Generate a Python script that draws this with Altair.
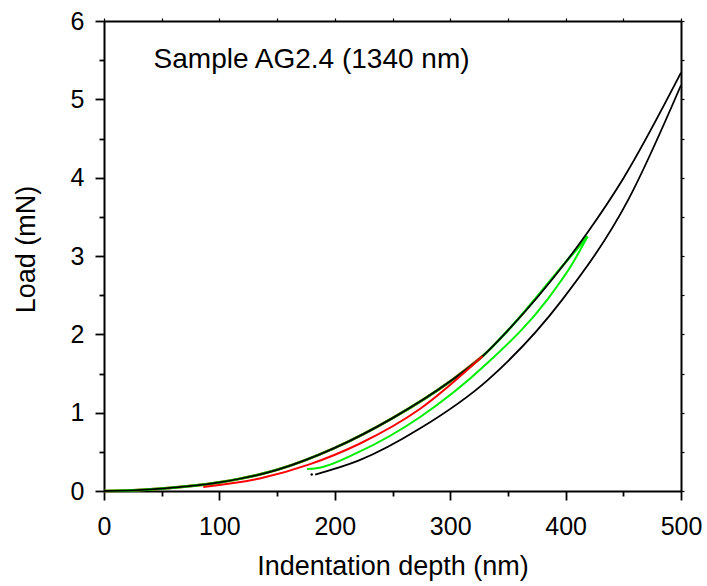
import altair as alt
import pandas as pd

# ---- data ----
load_depth = [0, 25, 50, 100, 150, 200, 250, 300, 328, 350, 400, 419, 450, 500]
load_force = [0, 0.008, 0.03, 0.11, 0.27, 0.55, 0.93, 1.40, 1.72, 2.05, 2.92, 3.30, 3.99, 5.34]

red_load_depth = [0, 25, 50, 100, 150, 200, 250, 300, 328]
red_load_force = [0, 0.008, 0.03, 0.11, 0.27, 0.55, 0.93, 1.40, 1.72]
red_unl_depth = [86, 135, 178, 221, 274, 328]
red_unl_force = [0.05, 0.16, 0.34, 0.60, 1.05, 1.72]

green_load_depth = [0, 25, 50, 100, 150, 200, 250, 300, 328, 350, 400, 419]
green_load_force = [0, 0.008, 0.03, 0.11, 0.27, 0.55, 0.93, 1.40, 1.72, 2.05, 2.92, 3.25]
green_unl_depth = [176, 184, 221, 274, 332, 384, 407, 419]
green_unl_force = [0.28, 0.29, 0.50, 0.945, 1.63, 2.44, 2.93, 3.25]

black_unl_depth = [183, 221, 274, 332, 397, 454, 500]
black_unl_force = [0.21, 0.39, 0.80, 1.41, 2.44, 3.71, 5.18]

dot_depth = [180]
dot_force = [0.21]

label_text = ["Sample AG2.4 (1340 nm)"]
label_x = [43]
label_y = [5.5]

x_all = [0, 50, 100, 150, 200, 250, 300, 350, 400, 450, 500]
y_all = [0, 0.5, 1, 1.5, 2, 2.5, 3, 3.5, 4, 4.5, 5, 5.5, 6]

FONT = "Liberation Sans"

def seg(name, xs, ys):
    return pd.DataFrame({"seg": name, "depth": xs, "load": ys})

series = [
    ("red_load", "#ff0000", 2.6, red_load_depth, red_load_force),
    ("green_load", "#00ee00", 2.6, green_load_depth, green_load_force),
    ("black_load", "#000000", 1.8, load_depth, load_force),
    ("red_unl", "#ff0000", 2.0, red_unl_depth, red_unl_force),
    ("green_unl", "#00ee00", 2.0, green_unl_depth, green_unl_force),
    ("black_unl", "#000000", 1.8, black_unl_depth, black_unl_force),
]

xs = alt.Scale(domain=[0, 500], nice=False, zero=False)
ys = alt.Scale(domain=[0, 6], nice=False, zero=False)

x_axis = alt.Axis(values=x_all,
                  labelExpr="datum.value % 100 === 0 ? format(datum.value, 'd') : ''",
                  tickSize={"condition": {"test": "datum.value % 100 === 0", "value": 9}, "value": 5},
                  labelFontSize=25, labelFont=FONT, labelColor="black", labelPadding=14,
                  title="Indentation depth (nm)", titleFont=FONT, titleFontSize=27,
                  titleFontWeight="normal", titleColor="black", titlePadding=14,
                  grid=False, domainColor="black", domainWidth=2, tickColor="black",
                  tickWidth=1.8, labelFlush=False, labelOverlap=False)
y_axis = alt.Axis(values=y_all,
                  labelExpr="datum.value % 1 === 0 ? format(datum.value, 'd') : ''",
                  tickSize={"condition": {"test": "datum.value % 1 === 0", "value": 9}, "value": 5},
                  labelFontSize=25, labelFont=FONT, labelColor="black", labelPadding=11,
                  title="Load (mN)", titleFont=FONT, titleFontSize=27,
                  titleFontWeight="normal", titleColor="black", titlePadding=30, titleY=228,
                  grid=False, domainColor="black", domainWidth=2, tickColor="black",
                  tickWidth=1.8, labelFlush=False, labelOverlap=False)

layers = []
for k, (name, color, w, dx, dy) in enumerate(series):
    layers.append(
        alt.Chart(seg(name, dx, dy)).mark_line(
            interpolate="monotone", color=color, strokeWidth=w).encode(
            x=alt.X("depth:Q", scale=xs, axis=x_axis if k == 0 else None),
            y=alt.Y("load:Q", scale=ys, axis=y_axis if k == 0 else None),
            order="depth:Q",
        )
    )

dots = alt.Chart(pd.DataFrame({"depth": dot_depth, "load": dot_force})).mark_point(
    filled=True, color="black", size=6, opacity=1).encode(
    x=alt.X("depth:Q", scale=xs, axis=None),
    y=alt.Y("load:Q", scale=ys, axis=None))

txt = alt.Chart(pd.DataFrame({"t": label_text, "x": label_x, "y": label_y})).mark_text(
    align="left", baseline="middle", font=FONT, fontSize=28, color="black").encode(
    x=alt.X("x:Q", scale=xs, axis=None),
    y=alt.Y("y:Q", scale=ys, axis=None),
    text="t:N")

frame = alt.Chart(pd.DataFrame({"depth": [0], "load": [0]})).mark_point(opacity=0).encode(
    x=alt.X("depth:Q", scale=xs, axis=alt.Axis(orient="top", values=x_all, labels=False, title=None,
            tickSize=3, grid=False, domainColor="black", domainWidth=2, tickColor="black", tickWidth=1.2)),
    y=alt.Y("load:Q", scale=ys, axis=alt.Axis(orient="right", values=y_all, labels=False, title=None,
            tickSize=3, grid=False, domainColor="black", domainWidth=2, tickColor="black", tickWidth=1.2)),
)

chart = alt.layer(*layers, dots, txt, frame).resolve_axis(x="independent", y="independent").properties(
    width=577, height=470,
    autosize=alt.AutoSizeParams(type="none"),
    padding={"left": 104, "top": 21, "right": 26, "bottom": 95},
).configure_view(stroke=None).configure(background="white")

chart.save("out.html", embed_options={"renderer": "svg", "actions": False})
